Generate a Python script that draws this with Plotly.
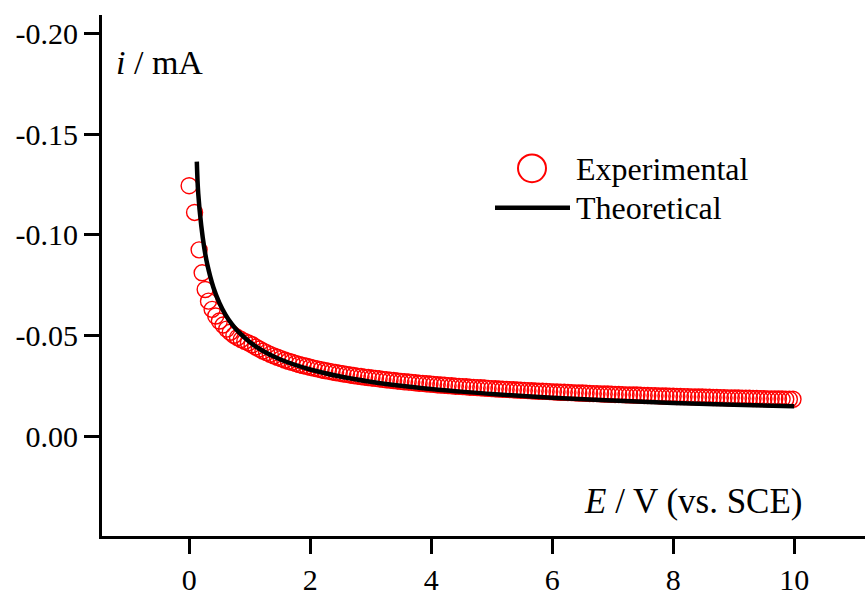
import plotly.graph_objects as go

# ---------------- data ----------------
E_exp = [
    0.00, 0.09, 0.165, 0.215, 0.265, 0.32, 0.38, 0.44, 0.50,
    0.56, 0.62, 0.68, 0.74, 0.80, 0.86, 0.92, 0.98,
    1.04, 1.10, 1.16, 1.22, 1.28, 1.34, 1.40, 1.46, 1.52, 1.58,
    1.64, 1.70, 1.76, 1.82, 1.88, 1.94, 2.00, 2.06, 2.12, 2.18,
    2.24, 2.30, 2.36, 2.42, 2.48, 2.54, 2.60, 2.66, 2.72, 2.78,
    2.84, 2.90, 2.96,
    3.02, 3.08, 3.14, 3.20, 3.26, 3.32, 3.38, 3.44, 3.50, 3.56,
    3.62, 3.68, 3.74, 3.80, 3.86, 3.92, 3.98, 4.04, 4.10, 4.16,
    4.22, 4.28, 4.34, 4.40, 4.46, 4.52, 4.58, 4.64, 4.70, 4.76,
    4.82, 4.88, 4.94, 5.00, 5.06, 5.12, 5.18, 5.24, 5.30, 5.36,
    5.42, 5.48, 5.54, 5.60, 5.66, 5.72, 5.78, 5.84, 5.90, 5.96,
    6.02, 6.08, 6.14, 6.20, 6.26, 6.32, 6.38, 6.44, 6.50, 6.56,
    6.62, 6.68, 6.74, 6.80, 6.86, 6.92, 6.98, 7.04, 7.10, 7.16,
    7.22, 7.28, 7.34, 7.40, 7.46, 7.52, 7.58, 7.64, 7.70, 7.76,
    7.82, 7.88, 7.94, 8.00, 8.06, 8.12, 8.18, 8.24, 8.30, 8.36,
    8.42, 8.48, 8.54, 8.60, 8.66, 8.72, 8.78, 8.84, 8.90, 8.96,
    9.02, 9.08, 9.14, 9.20, 9.26, 9.32, 9.38, 9.44, 9.50, 9.56,
    9.62, 9.68, 9.74, 9.80, 9.86, 9.92, 9.98,
]
i_exp = [
    -0.1245, -0.1112, -0.0926, -0.0812, -0.0729, -0.0671, -0.0630, -0.0597, -0.0572,
    -0.0552, -0.0532, -0.0516, -0.0501, -0.0490, -0.0480, -0.0471, -0.0463,
    -0.0454, -0.0443, -0.0433, -0.0423, -0.0415, -0.0406, -0.0399, -0.0392, -0.0385, -0.0378,
    -0.0372, -0.0367, -0.0361, -0.0356, -0.0351, -0.0347, -0.0342, -0.0338, -0.0334, -0.0330,
    -0.0326, -0.0323, -0.0319, -0.0316, -0.0313, -0.0310, -0.0307, -0.0304, -0.0301, -0.0298,
    -0.0296, -0.0293, -0.0291,
    -0.0289, -0.0287, -0.0285, -0.0282, -0.0280, -0.0278, -0.0276, -0.0274, -0.0272, -0.0270,
    -0.0269, -0.0267, -0.0265, -0.0263, -0.0262, -0.0260, -0.0259, -0.0257, -0.0255, -0.0254,
    -0.0253, -0.0251, -0.0250, -0.0248, -0.0247, -0.0246, -0.0245, -0.0243, -0.0242, -0.0241,
    -0.0240, -0.0239, -0.0237, -0.0236, -0.0235, -0.0234, -0.0233, -0.0232, -0.0231, -0.0230,
    -0.0229, -0.0228, -0.0227, -0.0226, -0.0225, -0.0224, -0.0223, -0.0223, -0.0222, -0.0221,
    -0.0220, -0.0219, -0.0218, -0.0218, -0.0217, -0.0216, -0.0215, -0.0214, -0.0214, -0.0213,
    -0.0212, -0.0211, -0.0211, -0.0210, -0.0209, -0.0209, -0.0208, -0.0207, -0.0207, -0.0206,
    -0.0205, -0.0205, -0.0204, -0.0204, -0.0203, -0.0202, -0.0202, -0.0201, -0.0201, -0.0200,
    -0.0199, -0.0199, -0.0198, -0.0198, -0.0197, -0.0197, -0.0196, -0.0196, -0.0195, -0.0195,
    -0.0194, -0.0194, -0.0193, -0.0193, -0.0192, -0.0192, -0.0191, -0.0191, -0.0190, -0.0190,
    -0.0189, -0.0189, -0.0188, -0.0188, -0.0188, -0.0187, -0.0187, -0.0186, -0.0186, -0.0185,
    -0.0185, -0.0185, -0.0184, -0.0184, -0.0183, -0.0183, -0.0183,
]

E_theo = [0.127, 0.15, 0.20, 0.25, 0.30, 0.40, 0.50, 0.60, 0.70, 0.80,
          1.00, 1.20, 1.50, 2.00, 2.50, 3.00, 3.50, 4.00, 4.50, 5.00,
          6.00, 7.00, 8.00, 9.00, 10.00]
i_theo = [-0.1365, -0.1208, -0.1047, -0.0936, -0.0854, -0.0740, -0.0662, -0.0604, -0.0559, -0.0523,
          -0.0468, -0.0427, -0.0382, -0.0331, -0.0296, -0.0270, -0.0250, -0.0234, -0.0221, -0.0209,
          -0.0191, -0.0177, -0.0165, -0.0156, -0.0148]

x_tickvals = [0, 2, 4, 6, 8, 10]
x_ticktext = ["0", "2", "4", "6", "8", "10"]
y_tickvals = [-0.20, -0.15, -0.10, -0.05, 0.00]
y_ticktext = ["-0.20", "-0.15", "-0.10", "-0.05", "0.00"]

series_names = ["Experimental", "Theoretical"]

# ---------------- figure ----------------
FONT = "Liberation Serif"
W, H = 865, 596
ML, MR, MT, MB = 102, 0, 15, 56
PW, PH = W - ML - MR, H - MT - MB


def px(xp):
    return (xp - ML) / PW


def py(yp):
    return (H - MB - yp) / PH


fig = go.Figure()
fig.add_trace(go.Scatter(
    x=E_exp, y=i_exp, mode="markers", name=series_names[0], showlegend=False,
    marker=dict(symbol="circle", size=16, color="rgba(0,0,0,0)",
                line=dict(color="#ff0000", width=1.4)),
))
fig.add_trace(go.Scatter(
    x=E_theo, y=i_theo, mode="lines", name=series_names[1], showlegend=False,
    line=dict(color="black", width=4.5, shape="spline"),
))

axis_common = dict(
    showline=True, linewidth=3, linecolor="black", mirror=False,
    ticks="outside", ticklen=15, tickwidth=3, tickcolor="black",
    showgrid=False, zeroline=False,
    tickfont=dict(family=FONT, size=30, color="black"),
)
fig.update_xaxes(range=[-1.44, 11.17], tickvals=x_tickvals, ticktext=x_ticktext, **axis_common)
fig.update_yaxes(range=[0.0497, -0.2094], tickvals=y_tickvals, ticktext=y_ticktext, **axis_common)

# manual legend
fig.add_shape(type="circle", xref="paper", yref="paper",
              x0=px(518), x1=px(546), y0=py(183.5), y1=py(155.5),
              line=dict(color="#ff0000", width=2))
fig.add_shape(type="line", xref="paper", yref="paper",
              x0=px(495), x1=px(570), y0=py(209.3), y1=py(209.3),
              line=dict(color="black", width=4.5))
leg_font = dict(family=FONT, size=32, color="black")
fig.add_annotation(text=series_names[0], xref="paper", yref="paper", x=px(574), y=py(170),
                   xanchor="left", yanchor="middle", showarrow=False, font=leg_font)
fig.add_annotation(text=series_names[1], xref="paper", yref="paper", x=px(574), y=py(209),
                   xanchor="left", yanchor="middle", showarrow=False, font=leg_font)
fig.add_annotation(text="<i>i</i> / mA", xref="paper", yref="paper", x=px(114), y=py(63),
                   xanchor="left", yanchor="middle", showarrow=False,
                   font=dict(family=FONT, size=34, color="black"))
fig.add_annotation(text="<i>E</i> / V (vs. SCE)", xref="paper", yref="paper", x=px(582), y=py(505),
                   xanchor="left", yanchor="middle", showarrow=False,
                   font=dict(family=FONT, size=35, color="black"))

fig.update_layout(
    width=W, height=H, autosize=False,
    margin=dict(l=ML, r=MR, t=MT, b=MB, pad=0),
    paper_bgcolor="white", plot_bgcolor="white",
    showlegend=False,
)

fig.write_html("out.html")
